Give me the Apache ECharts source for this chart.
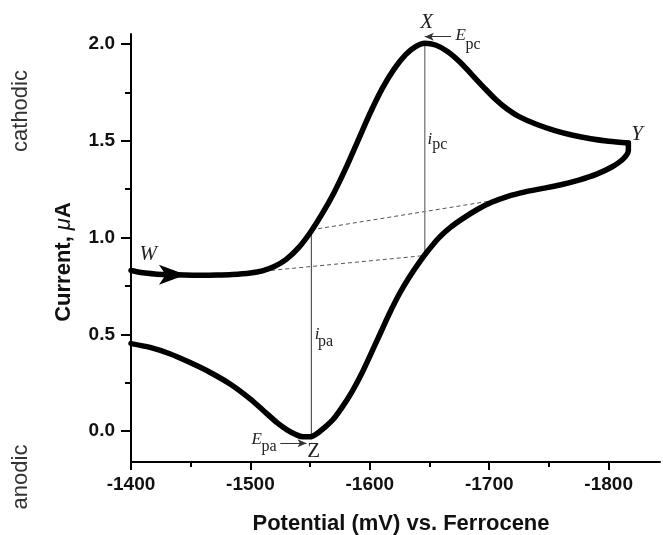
<!DOCTYPE html>
<html>
<head>
<meta charset="utf-8">
<script src="https://cdn.jsdelivr.net/npm/echarts@6/dist/echarts.min.js"></script>
<style>
  html, body { margin: 0; padding: 0; background: #fff; }
  #chart { width: 663px; height: 535px; }
</style>
</head>
<body>
<div id="chart"></div>
<script>
// Cyclic voltammogram: forward (cathodic) sweep W -> X -> Y, reverse sweep Y -> Z -> end
const forwardPotential = [-1400, -1410, -1420, -1430, -1445, -1458, -1472, -1485, -1500, -1510,
  -1520, -1530, -1540, -1550, -1560, -1570, -1580, -1590, -1600, -1610, -1620, -1630, -1638,
  -1646, -1655, -1665, -1675, -1685, -1695, -1705, -1715, -1725, -1740, -1755, -1770, -1785,
  -1800, -1816.5];
const forwardCurrent = [0.830, 0.818, 0.812, 0.809, 0.806, 0.805, 0.806, 0.809, 0.817, 0.828,
  0.850, 0.887, 0.945, 1.025, 1.122, 1.232, 1.360, 1.500, 1.640, 1.766, 1.868, 1.945, 1.985,
  2.004, 1.995, 1.962, 1.910, 1.845, 1.779, 1.716, 1.664, 1.625, 1.584, 1.553, 1.529, 1.511,
  1.498, 1.489];

const reversePotential = [-1816.5, -1816.5, -1812, -1803, -1790, -1775, -1760, -1745, -1730,
  -1715, -1702, -1690, -1679, -1668, -1658, -1649, -1641, -1633, -1625, -1617, -1609, -1601,
  -1593, -1585, -1577, -1569, -1562, -1556, -1550, -1544, -1538, -1531, -1522, -1511, -1500,
  -1483, -1466, -1449, -1433, -1416, -1400];
const reverseCurrent = [1.489, 1.450, 1.405, 1.366, 1.328, 1.297, 1.273, 1.254, 1.236,
  1.212, 1.182, 1.145, 1.103, 1.055, 1.000, 0.934, 0.868, 0.795, 0.712, 0.615, 0.508, 0.400,
  0.295, 0.203, 0.125, 0.058, 0.018, -0.012, -0.030, -0.030, -0.018, 0.005, 0.045, 0.105, 0.165,
  0.243, 0.304, 0.355, 0.398, 0.432, 0.452];

// Peak potentials / currents and extrapolated baselines
const Epc = -1646, Epa = -1551;
const ipcTop = 2.004, ipcBase = 0.907;
const ipaTop = 1.040, ipaBase = -0.031;
const cathodicBaselinePotential = [-1500, Epc];
const cathodicBaselineCurrent = [0.820, ipcBase];
const anodicBaselinePotential = [Epa, -1700];
const anodicBaselineCurrent = [ipaTop, 1.188];

// Axis ticks
const xMajorTicks = [-1400, -1500, -1600, -1700, -1800];
const xMinorTicks = [-1450, -1550, -1650, -1750];
const yMajorTicks = [0.0, 0.5, 1.0, 1.5, 2.0];
const yMinorTicks = [0.25, 0.75, 1.25, 1.75];
const xRange = [-1843, -1400];
const yRange = [-0.16, 2.052];

const zip = (a, b) => a.map((v, i) => [v, b[i]]);

const serif = '"Liberation Serif", "DejaVu Serif", serif';
const sans = '"Liberation Sans", Arial, sans-serif';

const chart = echarts.init(document.getElementById('chart'), null, { renderer: 'canvas' });

const tickLabelStyle = {
  color: '#111', fontFamily: sans, fontWeight: 'bold', fontSize: 19
};

const option = {
  animation: false,
  backgroundColor: '#fff',
  grid: { left: 131, right: 3, top: 34, bottom: 73 },
  xAxis: [
    {
      type: 'value', inverse: true, min: xRange[0], max: xRange[1], position: 'bottom',
      axisLine: { show: true, onZero: false, lineStyle: { color: '#000', width: 2 } },
      axisTick: { show: true, customValues: xMajorTicks, length: 8, lineStyle: { color: '#000', width: 2 } },
      axisLabel: Object.assign({ customValues: xMajorTicks, margin: 13, formatter: v => String(v) }, tickLabelStyle),
      splitLine: { show: false }
    },
    {
      type: 'value', inverse: true, min: xRange[0], max: xRange[1], position: 'bottom',
      axisLine: { show: false, onZero: false },
      axisTick: { show: true, customValues: xMinorTicks, length: 5, lineStyle: { color: '#000', width: 2 } },
      axisLabel: { show: false },
      splitLine: { show: false }
    }
  ],
  yAxis: [
    {
      type: 'value', min: yRange[0], max: yRange[1], position: 'left',
      axisLine: { show: true, onZero: false, lineStyle: { color: '#000', width: 2 } },
      axisTick: { show: true, customValues: yMajorTicks, length: 10, lineStyle: { color: '#000', width: 2 } },
      axisLabel: Object.assign({ customValues: yMajorTicks, margin: 16, formatter: v => v.toFixed(1) }, tickLabelStyle),
      splitLine: { show: false }
    },
    {
      type: 'value', min: yRange[0], max: yRange[1], position: 'left',
      axisLine: { show: false, onZero: false },
      axisTick: { show: true, customValues: yMinorTicks, length: 6, lineStyle: { color: '#000', width: 2 } },
      axisLabel: { show: false },
      splitLine: { show: false }
    }
  ],
  series: [
    {
      name: 'baseline-cathodic', type: 'line', showSymbol: false, silent: true,
      data: zip(cathodicBaselinePotential, cathodicBaselineCurrent),
      lineStyle: { color: '#555', width: 1, type: [4, 3] }
    },
    {
      name: 'baseline-anodic', type: 'line', showSymbol: false, silent: true,
      data: zip(anodicBaselinePotential, anodicBaselineCurrent),
      lineStyle: { color: '#555', width: 1, type: [4, 3] }
    },
    {
      name: 'ipc', type: 'line', showSymbol: false, silent: true,
      data: [[Epc, ipcTop], [Epc, ipcBase]],
      lineStyle: { color: '#888', width: 1.5 }
    },
    {
      name: 'ipa', type: 'line', showSymbol: false, silent: true,
      data: [[Epa, ipaTop], [Epa, ipaBase]],
      lineStyle: { color: '#333', width: 1 },
      markLine: {
        silent: true, symbol: ['none', 'arrow'], symbolSize: [6, 9],
        label: { show: false },
        lineStyle: { color: '#333', width: 1, type: 'solid' },
        data: [
          [{ coord: [-1668, 2.038] }, { coord: [-1646, 2.038] }],
          [{ coord: [-1525, -0.063] }, { coord: [-1547, -0.063] }]
        ]
      }
    },
    {
      name: 'forward', type: 'line', showSymbol: false, smooth: 0.3,
      data: zip(forwardPotential, forwardCurrent),
      lineStyle: { color: '#000', width: 5.5, cap: 'round', join: 'round' },
      markPoint: {
        silent: true, symbol: 'arrow', symbolRotate: -90, symbolSize: [15, 27],
        itemStyle: { color: '#000' }, label: { show: false },
        data: [{ coord: [-1446, 0.808] }]
      }
    },
    {
      name: 'reverse', type: 'line', showSymbol: false, smooth: 0.3,
      data: zip(reversePotential, reverseCurrent),
      lineStyle: { color: '#000', width: 5.5, cap: 'round', join: 'round' }
    }
  ]
};

chart.setOption(option);

// Point labels and peak annotations, anchored in data coordinates
const annotations = [
  { text: 'X',  at: [-1647.5, 2.114], font: 'italic 21px ' + serif, align: 'center' },
  { text: 'E',  at: [-1671.7, 2.042], font: 'italic 17px ' + serif, align: 'left' },
  { text: 'pc', at: [-1680.1, 1.997], font: '16px ' + serif, align: 'left' },
  { text: 'Y',  at: [-1823.9, 1.533], font: 'italic 21px ' + serif, align: 'center' },
  { text: 'i',  at: [-1648.3, 1.506], font: 'italic 17px ' + serif, align: 'left' },
  { text: 'pc', at: [-1652.3, 1.477], font: '16px ' + serif, align: 'left' },
  { text: 'W',  at: [-1414.5, 0.911], font: 'italic 21px ' + serif, align: 'center' },
  { text: 'i',  at: [-1553.8, 0.498], font: 'italic 17px ' + serif, align: 'left' },
  { text: 'pa', at: [-1556.6, 0.459], font: '16px ' + serif, align: 'left' },
  { text: 'E',  at: [-1500.9, -0.044], font: 'italic 17px ' + serif, align: 'left' },
  { text: 'pa', at: [-1509.2, -0.080], font: '16px ' + serif, align: 'left' },
  { text: 'Z',  at: [-1553.0, -0.104], font: '21px ' + serif, align: 'center' }
];

const graphics = annotations.map(a => {
  const p = chart.convertToPixel({ xAxisIndex: 0, yAxisIndex: 0 }, a.at);
  return {
    type: 'text', x: p[0], y: p[1], silent: true,
    style: { text: a.text, font: a.font, fill: '#222', align: a.align, verticalAlign: 'middle' }
  };
});

// Axis titles and side notes
graphics.push(
  {
    type: 'text', x: 401, y: 524, silent: true,
    style: { text: 'Potential (mV) vs. Ferrocene', font: 'bold 22px ' + sans, fill: '#111', align: 'center', verticalAlign: 'middle' }
  },
  {
    type: 'text', x: 64, y: 262, rotation: Math.PI / 2, silent: true,
    style: {
      text: '{b|Current, }{m|\u03bc}{b|A}', align: 'center', verticalAlign: 'middle',
      rich: {
        b: { fontFamily: sans, fontWeight: 'bold', fontSize: 22, fill: '#111' },
        m: { fontFamily: sans, fontStyle: 'italic', fontSize: 22, fill: '#111' }
      }
    }
  },
  {
    type: 'text', x: 21, y: 111, rotation: Math.PI / 2, silent: true,
    style: { text: 'cathodic', font: '22px ' + sans, fill: '#333', align: 'center', verticalAlign: 'middle' }
  },
  {
    type: 'text', x: 21, y: 477, rotation: Math.PI / 2, silent: true,
    style: { text: 'anodic', font: '22px ' + sans, fill: '#333', align: 'center', verticalAlign: 'middle' }
  }
);

chart.setOption({ graphic: graphics });
</script>
</body>
</html>
